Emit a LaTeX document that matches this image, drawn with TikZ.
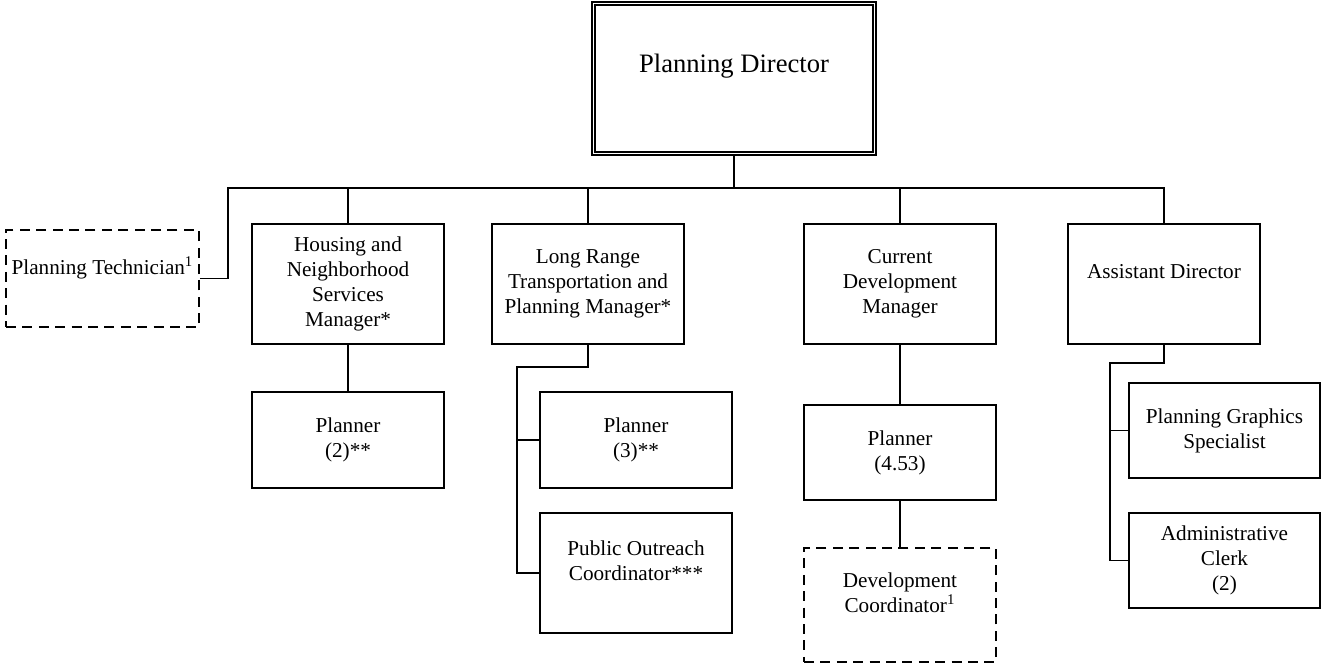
\documentclass[tikz,border=0pt]{standalone}
\usepackage{fontspec}
\setmainfont{Liberation Serif}
\begin{document}
\begin{tikzpicture}[x=0.5pt, y=-0.5pt, line width=0.9pt,
    post/.style={draw, align=center, inner sep=1pt,
      font=\fontsize{10.6}{12.5}\selectfont},
    mgr/.style={post, minimum width=96pt, minimum height=60pt},
    staff/.style={post, minimum width=96pt, minimum height=48pt},
    vacant/.style={post, dash pattern=on 5pt off 3.2pt}]
    \useasboundingbox (0,0) rectangle (1323,666);
    % director
    \node[draw, double, double distance=0.9pt, line width=0.7pt, align=center,
      minimum width=140.5pt, minimum height=75pt,
      font=\fontsize{13.3}{15}\selectfont] (dir) at (734,78.5) {Planning Director\\\mbox{}};
    % managers
    \node[vacant, minimum width=96.5pt, minimum height=48.5pt] (tech) at (102.5,278.5) {Planning Technician\textsuperscript{1}\\\mbox{}};
    \node[mgr] (hnsm) at (348,284) {Housing and\\Neighborhood\\Services\\Manager*};
    \node[mgr] (lrtp) at (588,284) {Long Range\\Transportation and\\Planning Manager*};
    \node[mgr] (cdm) at (900,284) {Current\\Development\\Manager};
    \node[mgr] (asst) at (1164,284) {Assistant Director\\\mbox{}};
    % staff
    \node[staff] (plan2) at (348,440) {Planner\\(2)**};
    \node[staff] (plan3) at (636,440) {Planner\\(3)**};
    \node[mgr] (outreach) at (636,573) {Public Outreach\\Coordinator***\\\mbox{}};
    \node[staff, minimum height=47.5pt] (plan453) at (900,452.5) {Planner\\(4.53)};
    \node[vacant, minimum width=96pt, minimum height=57pt] (devco) at (900,605) {Development\\Coordinator\textsuperscript{1}\\\mbox{}};
    \node[staff, minimum width=95.5pt, minimum height=47.5pt] (graphics) at (1224.5,430.5) {Planning Graphics\\Specialist};
    \node[staff, minimum width=95.5pt, minimum height=47.5pt] (clerk) at (1224.5,560.5) {Administrative\\Clerk\\(2)};

    % lines
    \coordinate (bus) at (734,188);
    \draw (dir.south) -- (bus);
    \draw (tech.east) -- ++(28,0) |- (bus) -| (asst.north);
    \foreach \n in {hnsm,lrtp,cdm}
      \draw (\n.north) -- (\n.north |- bus);
    \draw (hnsm.south) -- (plan2.north);
    \coordinate (lrspine) at (517,367);
    \draw (lrtp.south) |- (lrspine) |- (outreach.west);
    \draw (lrspine |- plan3.west) -- (plan3.west);
    \draw (cdm.south) -- (plan453.north);
    \draw (plan453.south) -- (devco.north);
    \coordinate (adspine) at (1110,363);
    \draw (asst.south) |- (adspine) |- (clerk.west);
    \draw (adspine |- graphics.west) -- (graphics.west);
\end{tikzpicture}
\end{document}
